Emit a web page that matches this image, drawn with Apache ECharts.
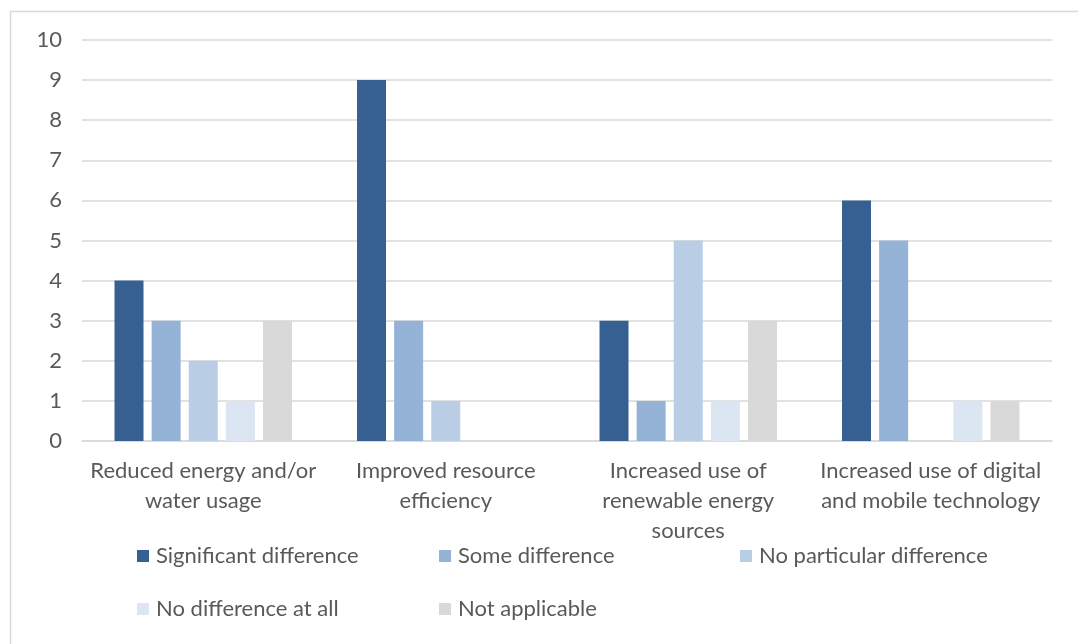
<!DOCTYPE html>
<html>
<head>
<meta charset="utf-8">
<script src="https://cdn.jsdelivr.net/npm/echarts@6/dist/echarts.min.js"></script>
<style>
  html, body { margin: 0; padding: 0; background: #fff; }
  #chart { width: 1078px; height: 644px; }
</style>
</head>
<body>
<div id="chart"></div>
<script>
// Survey categories (x axis) and per-response counts
const categories = [
  'Reduced energy and/or\nwater usage',
  'Improved resource\nefficiency',
  'Increased use of\nrenewable energy\nsources',
  'Increased use of digital\nand mobile technology'
];
const seriesNames = [
  'Significant difference',
  'Some difference',
  'No particular difference',
  'No difference at all',
  'Not applicable'
];
const significant = [4, 9, 3, 6];
const some = [3, 3, 1, 5];
const noParticular = [2, 1, 5, 0];
const noneAtAll = [1, 0, 1, 1];
const notApplicable = [3, 0, 3, 1];
const yTicks = [0, 1, 2, 3, 4, 5, 6, 7, 8, 9, 10];

const values = [significant, some, noParticular, noneAtAll, notApplicable];
const colors = ['#376092', '#95b3d7', '#b9cde5', '#dce6f2', '#d9d9d9'];
const textColor = '#595959';
const fontFamily = 'Lato, "Open Sans", sans-serif';
const fontSize = 22;

// Legend laid out on a fixed two-row grid
const legendSlots = [
  { left: 137, top: 545 },
  { left: 439, top: 545 },
  { left: 740, top: 545 },
  { left: 137, top: 598 },
  { left: 439, top: 598 }
];

const chart = echarts.init(document.getElementById('chart'));
chart.setOption({
  animation: false,
  backgroundColor: '#fff',
  graphic: [{
    type: 'rect',
    shape: { x: 10.5, y: 11.5, width: 1080, height: 640 },
    style: { fill: 'none', stroke: '#d9d9d9', lineWidth: 1.5 },
    silent: true
  }],
  legend: legendSlots.map((slot, i) => ({
    data: [seriesNames[i]],
    left: slot.left,
    top: slot.top,
    padding: 0,
    icon: 'rect',
    itemWidth: 12,
    itemHeight: 12,
    itemGap: 6,
    textStyle: { color: textColor, fontSize: fontSize, fontFamily: fontFamily, padding: [0, 0, 0, 2] },
    selectedMode: false
  })),
  grid: { left: 82, right: 26, top: 40, bottom: 203, containLabel: false },
  xAxis: {
    type: 'category',
    data: categories,
    axisLine: { lineStyle: { color: '#d9d9d9', width: 1.5 } },
    axisTick: { show: false },
    axisLabel: {
      color: textColor,
      fontSize: fontSize,
      fontFamily: fontFamily,
      lineHeight: 30,
      margin: 15,
      interval: 0
    }
  },
  yAxis: {
    type: 'value',
    min: yTicks[0],
    max: yTicks[yTicks.length - 1],
    interval: 1,
    axisLine: { show: false },
    axisTick: { show: false },
    splitLine: { lineStyle: { color: '#d9d9d9', width: 1.5 } },
    axisLabel: {
      color: textColor,
      fontSize: fontSize,
      fontFamily: fontFamily,
      margin: 20
    }
  },
  series: seriesNames.map((name, i) => ({
    name: name,
    type: 'bar',
    data: values[i],
    barWidth: 29,
    barGap: '28%',
    itemStyle: { color: colors[i] }
  }))
});
</script>
</body>
</html>
